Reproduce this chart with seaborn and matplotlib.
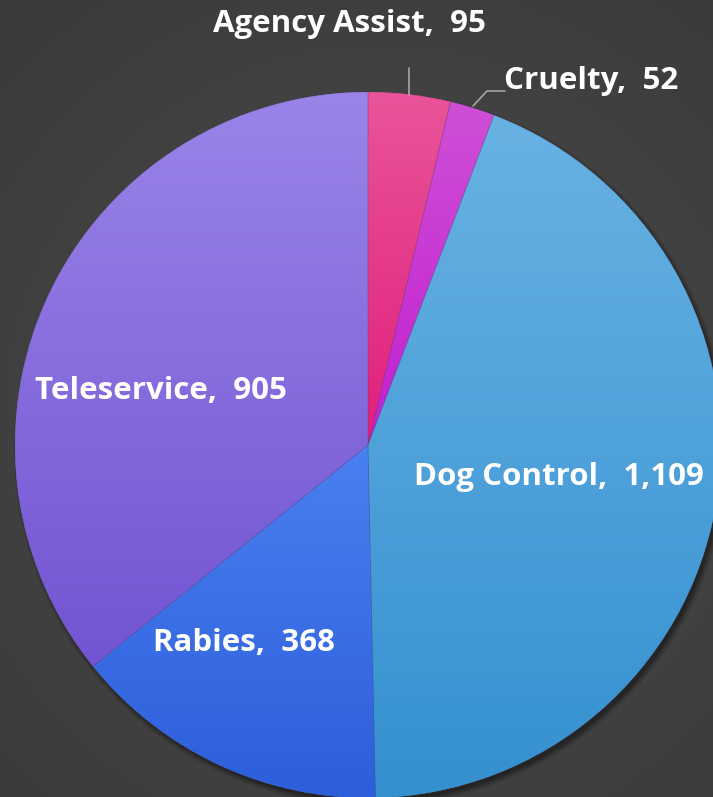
import numpy as np
import matplotlib
matplotlib.use("Agg")
import matplotlib.pyplot as plt
import seaborn as sns
from matplotlib.colors import LinearSegmentedColormap, to_rgb
from matplotlib.patches import Circle, PathPatch

# dati
categories = ["Agency Assist", "Cruelty", "Dog Control", "Rabies", "Teleservice"]
counts = [95, 52, 1109, 368, 905]
top_colors = ["#ea5499", "#cf4fd6", "#68b2e3", "#4a80f0", "#9a84e8"]
bottom_colors = ["#e01f7c", "#c11fd0", "#3590d0", "#2d5edb", "#7354d3"]

W, H = 713, 797
CX, CY, R = 368, 797 - 445, 353

sns.set_theme(style="white")
plt.rcParams['font.family'] = ['Open Sans', 'DejaVu Sans']

fig = plt.figure(figsize=(W / 100, H / 100), dpi=100)
ax = fig.add_axes([0, 0, 1, 1])

# sfondo con gradiente radiale
yy, xx = np.mgrid[0:H, 0:W]
d = np.sqrt((xx - 380) ** 2 + (yy - 420) ** 2) / 620
d = np.clip(d, 0, 1)
c_in, c_out = np.array(to_rgb("#4c4c4c")), np.array(to_rgb("#383838"))
bg = c_in[None, None, :] * (1 - d[..., None]) + c_out[None, None, :] * d[..., None]
ax.imshow(bg, extent=(0, W, 0, H), origin="upper", zorder=0, aspect="auto")

# ombra
for i, a in enumerate([0.10, 0.10, 0.12, 0.15]):
    ax.add_patch(Circle((CX + 3, CY - 4), R + 4 - i * 1.5, color="black", alpha=a, lw=0, zorder=1))

wedges, _ = ax.pie(counts, center=(CX, CY), radius=R, startangle=90, counterclock=False,
                   colors=top_colors, wedgeprops=dict(linewidth=0), frame=True)

# gradiente verticale per ogni spicchio
for w, ct, cb in zip(wedges, top_colors, bottom_colors):
    w.set_zorder(2)
    bb = w.get_path().get_extents(w.get_patch_transform())
    cmap = LinearSegmentedColormap.from_list("g", [cb, ct])
    grad = np.linspace(0, 1, 256)[:, None]
    im = ax.imshow(grad, extent=(bb.x0, bb.x1, bb.y0, bb.y1), origin="lower",
                   cmap=cmap, aspect="auto", zorder=2.5)
    im.set_clip_path(w)
    ax.add_patch(PathPatch(w.get_path(), transform=w.get_transform(), fill=False,
                           lw=0.5, ec=(0.25, 0.25, 0.4, 0.25), zorder=3))

ax.set_xlim(0, W)
ax.set_ylim(0, H)
ax.set_aspect("auto")
ax.axis("off")

# etichette
label_pos = [(349, 797 - 24), (591, 797 - 81), (559, 797 - 477), (244, 797 - 643), (161, 797 - 391)]
for cat, n, (x, y) in zip(categories, counts, label_pos):
    ax.text(x, y, f"{cat},  {n:,}", color="white", fontsize=22.5, fontweight="bold",
            ha="center", va="center", zorder=5)

# linee guida
ax.plot([409, 409], [797 - 68, 797 - 95], color="#a6a6a6", lw=1.2, zorder=4)
ax.plot([473, 487, 505], [797 - 106, 797 - 91, 797 - 91], color="#a6a6a6", lw=1.2, zorder=4)

fig.savefig("out.png", dpi=100)
